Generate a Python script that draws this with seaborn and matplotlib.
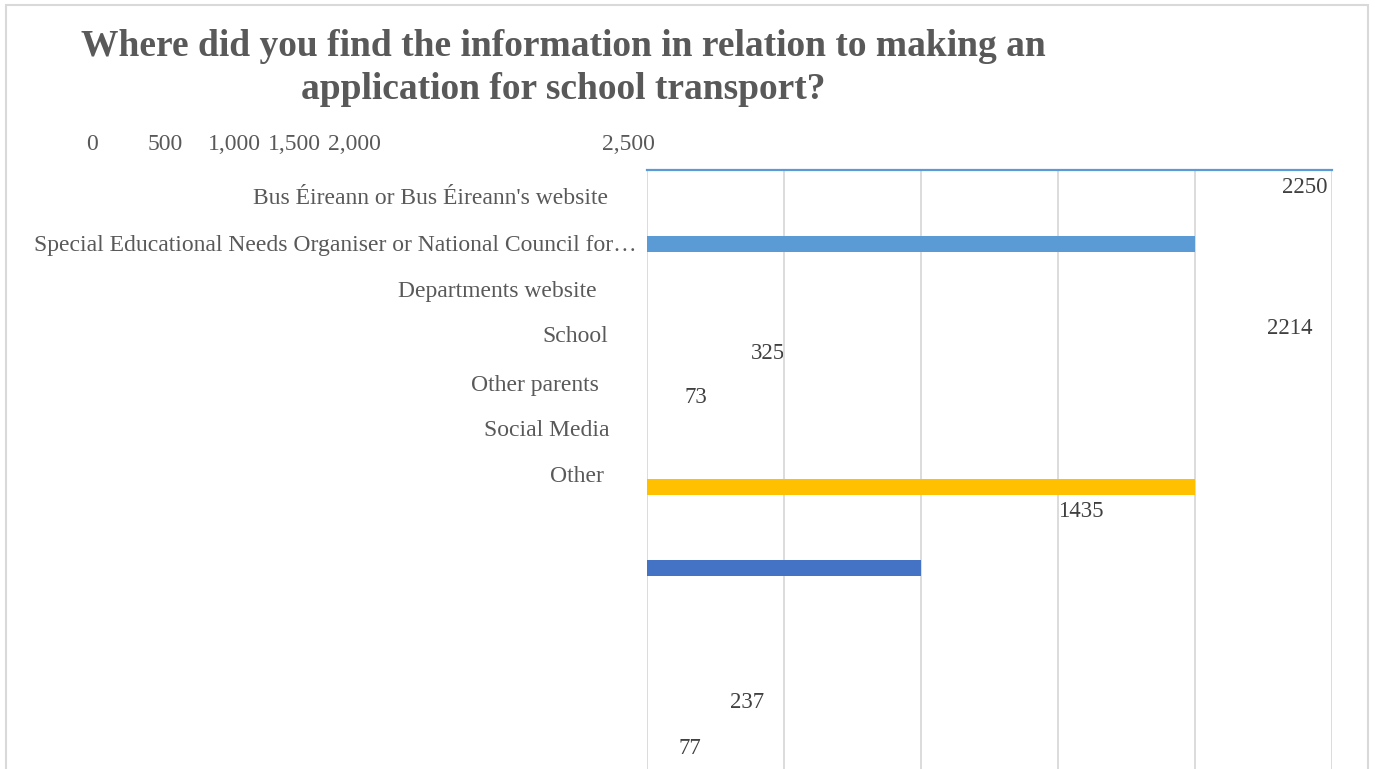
import matplotlib
matplotlib.use("Agg")
import matplotlib.pyplot as plt
import seaborn as sns
import pandas as pd
from matplotlib.patches import Rectangle

# Survey answers (response sources)
categories = [
    "Bus Éireann or Bus Éireann's website",
    "Special Educational Needs Organiser or National Council for…",
    "Departments website",
    "School",
    "Other parents",
    "Social Media",
    "Other",
]
# Bar lengths as drawn on the value grid
bar_values = [2000, 0, 0, 2000, 1000, 0, 0]
# Data-label values
label_values = [2250, 2214, 325, 73, 1435, 237, 77]
# Value-axis tick labels
tick_labels = ["0", "500", "1,000", "1,500", "2,000", "2,500"]
title = "Where did you find the information in relation to making an\napplication for school transport?"

# Office palette, one colour per category slot
palette = ["#5B9BD5", "#ED7D31", "#A5A5A5", "#FFC000", "#4472C4", "#70AD47", "#264478"]

# --- layout (figure pixels / data positions) ---
W, H = 1375, 769
cat_label_right = [608, 637, 597, 608, 599, 610, 604]
cat_label_y = [198, 245, 292, 337, 385, 431, 477]
tick_x = [92, 165, 234, 294, 354, 628]
tick_y = 144
label_pos = [(2402, -0.69), (2347, 1.05), (442, 1.35), (179, 1.90),
             (1584, 3.30), (365, 5.66), (157, 6.23)]

sns.set_theme(style="white")
plt.rcParams["font.family"] = ["Liberation Serif", "DejaVu Serif"]

fig = plt.figure(figsize=(W / 100, H / 100), dpi=100)
fig.patch.set_facecolor("white")

ax = fig.add_axes([647 / W, 0, 685 / W, 1 - 170 / H])
df = pd.DataFrame({"cat": categories, "val": bar_values})
sns.barplot(data=df, x="val", y="cat", hue="cat", palette=palette,
            saturation=1, orient="h", width=0.2, legend=False, ax=ax,
            linewidth=0, zorder=3)

ax.set_xlim(0, 2500)
ax.set_ylim(6.48, -0.91)
ax.set_xticks(range(0, 2501, 500))
ax.set_xticklabels([])
ax.set_yticks([])
ax.set_xlabel("")
ax.set_ylabel("")
ax.set_axisbelow(True)
ax.grid(axis="x", color="#D9D9D9", linewidth=1.3)
ax.tick_params(length=0)
for side in ["left", "right", "bottom"]:
    ax.spines[side].set_visible(False)
ax.spines["top"].set_color("#5B9BD5")
ax.spines["top"].set_linewidth(1.6)

for v, (x, y) in zip(label_values, label_pos):
    ax.text(x, y, str(v), ha="center", va="center", fontsize=16.5,
            color="#404040", zorder=0.2)

for name, xr, yp in zip(categories, cat_label_right, cat_label_y):
    fig.text(xr / W, 1 - yp / H, name, ha="right", va="center",
             fontsize=17, color="#595959")

for t, xp in zip(tick_labels, tick_x):
    fig.text(xp / W, 1 - tick_y / H, t, ha="center", va="center",
             fontsize=17, color="#595959")

fig.text(563 / W, 1 - 68 / H, title, ha="center", va="center",
         fontsize=27, fontweight="bold", color="#595959", linespacing=1.26)

# chart-area frame
fig.add_artist(Rectangle((6 / W, -0.05), (1368 - 6) / W, 1.05 - 5 / H,
                         transform=fig.transFigure, fill=False,
                         edgecolor="#D9D9D9", linewidth=1.5))

fig.savefig("out.png", dpi=100, facecolor="white")
